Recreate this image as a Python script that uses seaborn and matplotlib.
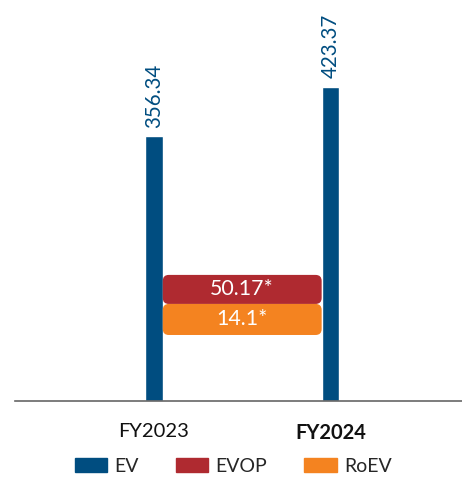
import pandas as pd
import seaborn as sns
import matplotlib.pyplot as plt
from matplotlib.patches import FancyBboxPatch, Patch

years = ['FY2023', 'FY2024']
ev = [356.34, 423.37]
evop_label = '50.17*'
roev_label = '14.1*'
series = ['EV', 'EVOP', 'RoEV']

blue = '#004d80'
red = '#af2a30'
orange = '#f48320'

sns.set_style('white')
plt.rcParams['font.family'] = ['Lato', 'DejaVu Sans']

df = pd.DataFrame({'year': years, 'ev': ev})

fig = plt.figure(figsize=(4.62, 4.86), dpi=100)
ax = fig.add_axes([15 / 462, 85 / 486, 447 / 462, 401 / 486])
sns.barplot(data=df, x='year', y='ev', color=blue, width=0.1, saturation=1, ax=ax)

ax.set_xlim(-0.787, 1.745)
ax.set_ylim(0, 540)
for s in ['top', 'right', 'left']:
    ax.spines[s].set_visible(False)
ax.spines['bottom'].set_color('#666666')
ax.spines['bottom'].set_linewidth(1.2)
ax.set_yticks([])
ax.set_xlabel('')
ax.set_ylabel('')
ax.tick_params(axis='x', length=0, pad=16, labelsize=14.5, labelcolor='#111111')
labels = ax.get_xticklabels()
labels[1].set_fontweight('bold')

for i, v in enumerate(ev):
    ax.annotate(f'{v:.2f}', (i, v), xytext=(0, 6), textcoords='offset points',
                rotation=90, ha='center', va='bottom', fontsize=14.8, color=blue)

# EVOP / RoEV callouts between the bars
x0, x1 = 0.05, 0.95
r = 0.034
asp = (6 / 0.742) / r
boxes = [(red, 130.7, 169.8, evop_label), (orange, 88.9, 130.7, roev_label)]
for c, y0, y1, txt in boxes:
    p = FancyBboxPatch((x0, y0), x1 - x0, y1 - y0,
                       boxstyle=f'round,pad=0,rounding_size={r}',
                       mutation_aspect=asp, fc=c, ec='none', zorder=3)
    ax.add_patch(p)
    ax.text((x0 + x1) / 2, (y0 + y1) / 2, txt, ha='center', va='center',
            color='white', fontsize=15.4, zorder=4)

handles = [Patch(color=c) for c in [blue, red, orange]]
fig.legend(handles, series, loc='center', bbox_to_anchor=(0.505, 0.04), ncol=3,
           frameon=False, fontsize=14, handlelength=1.65, handleheight=0.75,
           handletextpad=0.4, columnspacing=1.9)

fig.savefig('out.png', dpi=100)
